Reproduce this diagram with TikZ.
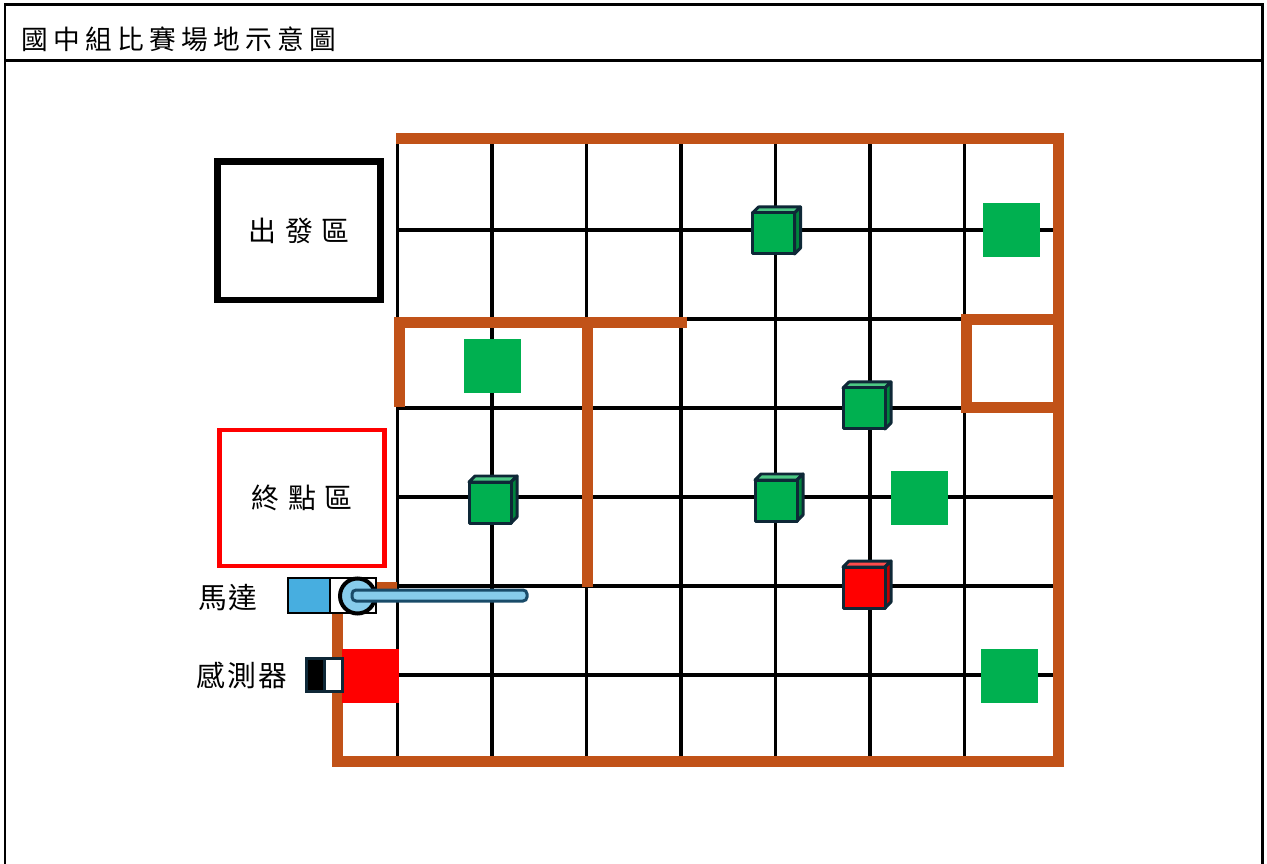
\documentclass[tikz,border=0pt]{standalone}
\usepackage{fontspec}
\newfontfamily\cjk{Noto Sans CJK TC}
\newfontfamily\cjktitle[LetterSpace=20]{Noto Sans CJK TC}
\newfontfamily\cjkzone[LetterSpace=30]{Noto Sans CJK TC}
\newfontfamily\cjkpart[LetterSpace=7]{Noto Sans CJK TC}

\definecolor{wall}{RGB}{193,82,24}
\definecolor{boxgreen}{RGB}{0,176,80}
\definecolor{cubeedge}{RGB}{14,40,55}
\definecolor{motorblue}{RGB}{71,174,224}
\definecolor{armblue}{RGB}{135,204,235}
\definecolor{armedge}{RGB}{25,75,105}

\begin{document}
\begin{tikzpicture}[x=0.02cm, y=-0.02cm,
    gridline/.style={line width=0.07cm},
    wallline/.style={wall, line width=0.22cm},
    zone/.style={line width=0.12cm, inner sep=0pt, font=\cjkzone\fontsize{15.9pt}{18pt}\selectfont},
    parttext/.style={font=\cjkpart\fontsize{16.4pt}{19pt}\selectfont}]
    \useasboundingbox (0,0) rectangle (1267,864);

    % Page frame and title bar
    \draw[line width=0.06cm] (5,864) -- (5,5) -- (1262.5,5) -- (1262.5,864);
    \draw[line width=0.06cm] (5,60.5) -- (1262.5,60.5);
    \node[anchor=west, inner sep=0pt, font=\cjktitle\fontsize{15.2pt}{18pt}\selectfont] (title) at (21,39) {國中組比賽場地示意圖};

    % Grid lines
    \foreach \i in {0,...,6}
        \draw[gridline] ({397.5+94.5*\i},138.5) -- ({397.5+94.5*\i},761.5);
    \foreach \j in {0,...,5}
        \draw[gridline] (397.5,{230+89*\j}) -- (1058.5,{230+89*\j});

    % Outer walls
    \draw[wallline] (396,138.5) -- (1058.5,138.5) -- (1058.5,761.5) -- (337,761.5) -- (337,587) -- (397,587);
    % Inner walls
    \draw[wallline] (399.5,407) -- (399.5,322.5) -- (687,322.5);
    \draw[wallline] (587.5,322.5) -- (587.5,587);
    \draw[wallline] (1058.5,319.5) -- (966.5,319.5) -- (966.5,407.5) -- (1058.5,407.5);

    % Target squares
    \fill[boxgreen] (983,203) rectangle (1040,257);
    \fill[boxgreen] (464,339) rectangle (521,393);
    \fill[boxgreen] (891,471) rectangle (948,525);
    \fill[boxgreen] (981,649) rectangle (1038,703);
    \fill[red] (342,649) rectangle (399,703);

    % Cubes
    \foreach \cx/\cy/\cc in {773.5/233/boxgreen, 864/408/boxgreen, 490/502/boxgreen, 776/500/boxgreen, 864/587/red} {
        \begin{scope}[shift={(\cx,\cy)}, cubeedge, line width=0.06cm, line join=round]
            \filldraw[fill=\cc!70!white] (-21,-20) -- (-15,-26) -- (27,-26) -- (21,-20) -- cycle;
            \filldraw[fill=\cc!75!black] (21,-20) -- (27,-26) -- (27,15) -- (21,21) -- cycle;
            \filldraw[fill=\cc] (-21,-20) rectangle (21,21);
        \end{scope}
    }

    % Start and finish zones
    \node[zone, draw=black, line width=0.13cm, minimum width=3.26cm, minimum height=2.77cm] (start) at (299,230.75) {出發區};
    \node[zone, draw=red, line width=0.09cm, minimum width=3.3cm, minimum height=2.72cm] (finish) at (302,498) {終點區};

    % Motor with arm
    \draw[line width=0.04cm, fill=motorblue] (287.5,578) rectangle (329.5,613);
    \draw[line width=0.04cm, fill=white] (329.5,578) rectangle (376,613);
    \draw[line width=0.08cm, fill=armblue] (357.5,596) circle (0.35cm);
    \draw[armedge, line width=0.06cm, fill=armblue, rounded corners=0.08cm] (352,590) rectangle (527,601);
    \node[parttext] (motor) at (228,598) {馬達};

    % Sensor
    \draw[cubeedge, line width=0.06cm, fill=black] (306,658) rectangle (324,691);
    \draw[cubeedge, line width=0.06cm, fill=white] (324,658) rectangle (342,691);
    \node[parttext] (sensor) at (242,675) {感測器};
\end{tikzpicture}
\end{document}
